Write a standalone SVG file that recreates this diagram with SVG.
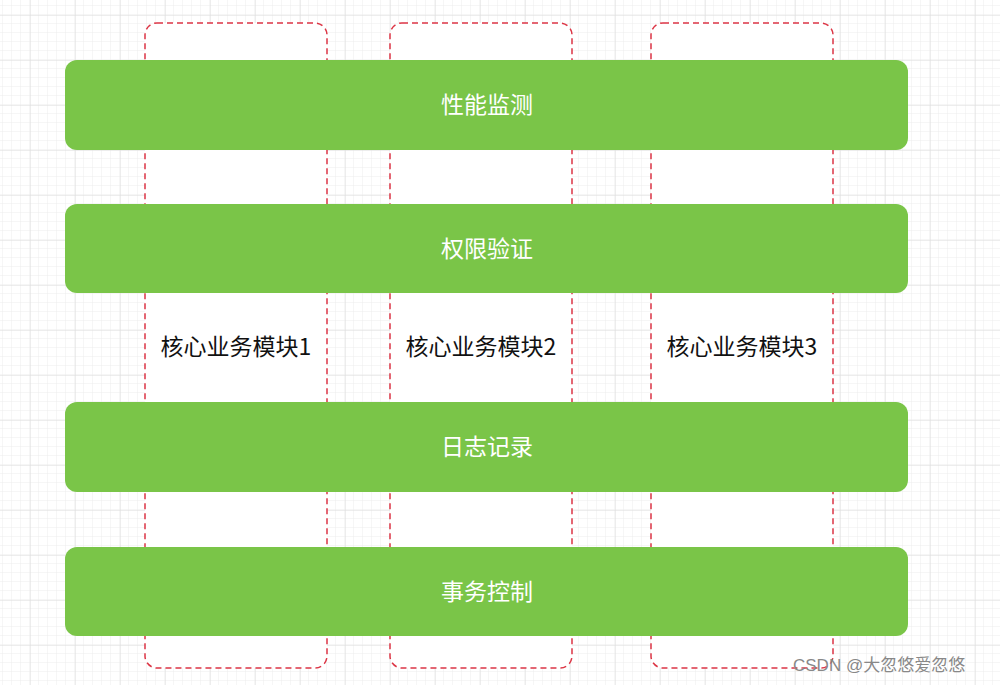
<svg xmlns="http://www.w3.org/2000/svg" width="1000" height="685" viewBox="0 0 1000 685">
<defs>
<pattern id="minor" width="9" height="9" patternUnits="userSpaceOnUse" x="3" y="6">
<path d="M9 0V9M0 9H9" fill="none" stroke="#ececec" stroke-width="1"/>
</pattern>
<pattern id="major" width="45" height="45" patternUnits="userSpaceOnUse" x="30" y="15">
<path d="M0 0V45M0 0H45" fill="none" stroke="#dcdcdc" stroke-width="1"/>
</pattern>
<style>
.mod{fill:#fff;stroke:#dc3545;stroke-width:1.5;stroke-dasharray:6 4}
.bar{fill:#7ac548}
.bt{fill:#fff;font-family:"Noto Sans CJK SC","Noto Sans",sans-serif;font-size:23px;text-anchor:middle;dominant-baseline:central}
.mt{fill:#111;font-family:"Noto Sans CJK SC","Noto Sans",sans-serif;font-size:23px;text-anchor:middle;dominant-baseline:central}
.wm{fill:#888;font-family:"Liberation Sans","Noto Sans CJK SC",sans-serif;font-size:17px}
</style>
</defs>
<rect width="1000" height="685" fill="#fff"/>
<rect width="1000" height="685" fill="url(#minor)"/>
<rect width="1000" height="685" fill="url(#major)"/>
<g id="connectors"></g>
<g id="module1"><rect class="mod" x="145" y="23" width="182" height="645" rx="12"/><text class="mt" x="236" y="345">核心业务模块1</text></g>
<g id="module2"><rect class="mod" x="390" y="23" width="182" height="645" rx="12"/><text class="mt" x="481" y="345">核心业务模块2</text></g>
<g id="module3"><rect class="mod" x="651" y="23" width="182" height="645" rx="12"/><text class="mt" x="742" y="345">核心业务模块3</text></g>
<g id="perf"><rect class="bar" x="65" y="60" width="843" height="90" rx="12"/><text class="bt" x="487" y="103">性能监测</text></g>
<g id="auth"><rect class="bar" x="65" y="204" width="843" height="89" rx="12"/><text class="bt" x="487" y="247">权限验证</text></g>
<g id="log"><rect class="bar" x="65" y="402" width="843" height="90" rx="12"/><text class="bt" x="487" y="445">日志记录</text></g>
<g id="tx"><rect class="bar" x="65" y="547" width="843" height="89" rx="12"/><text class="bt" x="487" y="590">事务控制</text></g>
<text class="wm" x="793" y="671">CSDN @大忽悠爱忽悠</text>
</svg>
